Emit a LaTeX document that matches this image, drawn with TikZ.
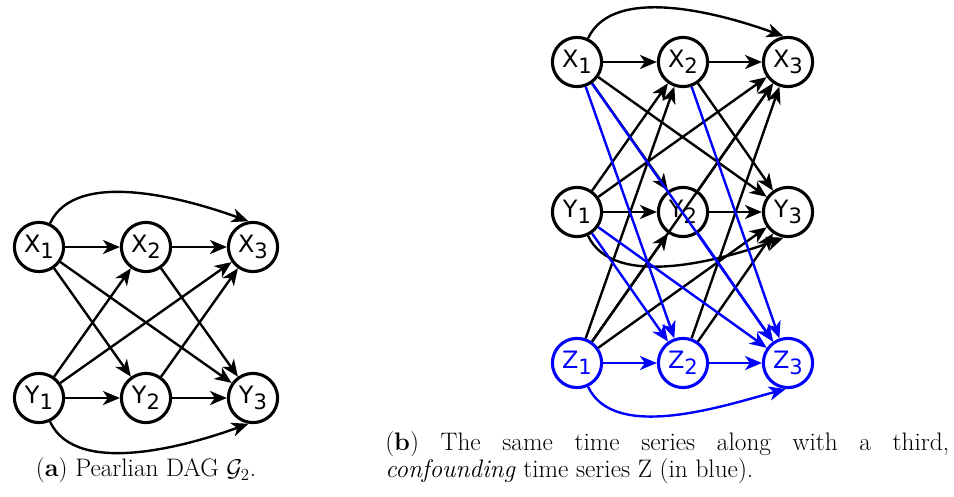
\documentclass[tikz,border=0pt]{standalone}
\usepackage{fontspec}
\newfontfamily\varfont{DejaVu Sans}
\usetikzlibrary{arrows.meta}

\newcommand{\vsub}[1]{\raisebox{-4pt}{\fontsize{15pt}{15pt}\selectfont #1}}

\tikzset{
	var/.style={circle, draw, line width=2.2pt, minimum size=35pt, inner sep=0pt,
		font=\varfont\fontsize{17pt}{17pt}\selectfont},
	conf/.style={var, draw=blue, text=blue},
	arr/.style={-{Stealth[length=12pt,width=10pt,inset=3.5pt]}, line width=1.7pt},
	carr/.style={arr, draw=blue},
	capfont/.style={inner sep=0pt, font=\fontsize{18pt}{19.2pt}\selectfont}
}

\begin{document}
\begin{tikzpicture}[x=0.025cm,y=-0.025cm]
	\useasboundingbox (0,0) rectangle (954,497);

	% pearlian DAG
	\node[var] (xa1) at (39,247)  {X\vsub{1}};
	\node[var] (xa2) at (146,247) {X\vsub{2}};
	\node[var] (xa3) at (253,247) {X\vsub{3}};
	\node[var] (ya1) at (39,398)  {Y\vsub{1}};
	\node[var] (ya2) at (146,398) {Y\vsub{2}};
	\node[var] (ya3) at (253,398) {Y\vsub{3}};

	\foreach \s/\t in {xa1/xa2,xa2/xa3,ya1/ya2,ya2/ya3,xa1/ya2,xa1/ya3,ya1/xa2,ya1/xa3,xa2/ya3,ya2/xa3}
		\draw[arr] (\s) -- (\t);
	\draw[arr] (xa1.65) to[out=65,in=160,looseness=0.8] (xa3.100);
	\draw[arr] (ya1.-65) to[out=-65,in=-160,looseness=0.8] (ya3.-100);

	\node[capfont, anchor=base] (capa) at (146,477) {(\textbf{a}) Pearlian DAG $\mathcal{G}_2$.};

	% same series with confounder
	\node[var] (x1) at (577,62)  {X\vsub{1}};
	\node[var] (x2) at (683,62)  {X\vsub{2}};
	\node[var] (x3) at (788,62)  {X\vsub{3}};
	\node[var] (y1) at (577,212) {Y\vsub{1}};
	\node[var] (y2) at (683,212) {Y\vsub{2}};
	\node[var] (y3) at (788,212) {Y\vsub{3}};
	\node[conf] (z1) at (577,363) {Z\vsub{1}};
	\node[conf] (z2) at (683,363) {Z\vsub{2}};
	\node[conf] (z3) at (788,363) {Z\vsub{3}};

	\foreach \s/\t in {x1/x2,x2/x3,y1/y2,y2/y3,x1/y2,x1/y3,y1/x2,y1/x3,x2/y3,y2/x3,
			z1/x2,z1/y2,z1/x3,z1/y3,z2/x3,z2/y3}
		\draw[arr] (\s) -- (\t);
	\draw[arr] (x1.65) to[out=65,in=160,looseness=0.8] (x3.100);
	\draw[arr] (y1.-65) to[out=-65,in=-160,looseness=0.8] (y3.-100);

	%blue edges into Z
	\foreach \s/\t in {x1/z2,x1/z3,y1/z2,y1/z3,x2/z3,y2/z3,z1/z2,z2/z3}
		\draw[carr] (\s) -- (\t);
	\draw[carr] (z1.-65) to[out=-65,in=-165,looseness=0.8] (z3.-95);

	\node[capfont, anchor=base west] (capb) at (385,451) {\parbox[t]{401pt}{%
		\makebox[\linewidth][s]{(\textbf{b}) The same time series along with a third,}\\
		\textit{confounding} time series Z (in blue).}};

\end{tikzpicture}
\end{document}
